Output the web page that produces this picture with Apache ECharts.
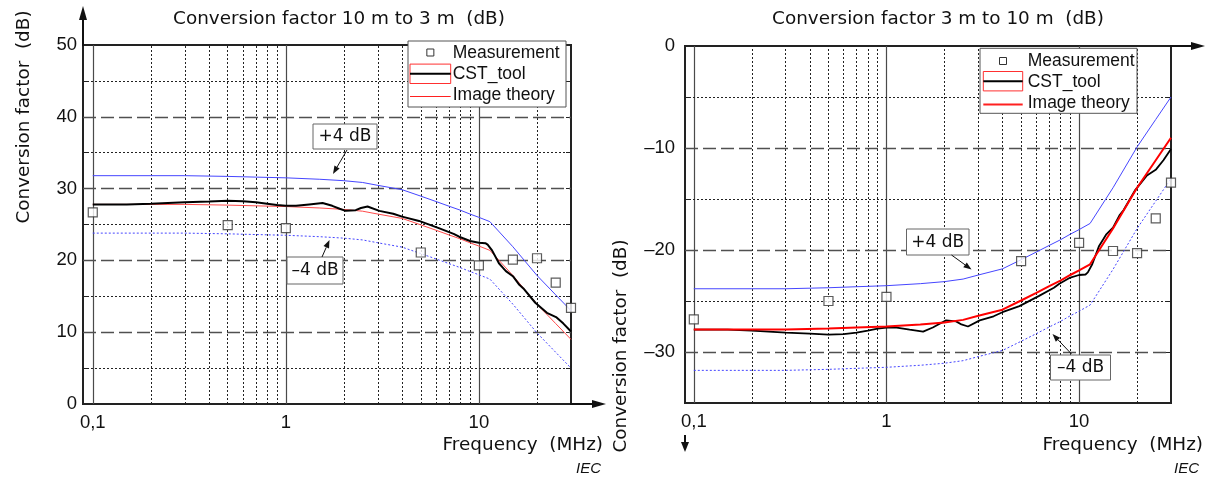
<!DOCTYPE html>
<html>
<head>
<meta charset="utf-8">
<script src="https://cdn.jsdelivr.net/npm/echarts@6/dist/echarts.min.js"></script>
<style>
  html, body { margin: 0; padding: 0; background: #fff; }
  #chart { width: 1212px; height: 477px; }
</style>
</head>
<body>
<div id="chart"></div>
<script>
// ---- data ----
const freqMeas = [0.1, 0.5, 1, 5, 10, 15, 20, 25, 30];
const measLeft = [26.7, 24.9, 24.5, 21.1, 19.3, 20.1, 20.3, 16.9, 13.4];
const measRight = [-26.8, -25.0, -24.6, -21.1, -19.3, -20.1, -20.3, -16.9, -13.4];

const freqTheory = [0.1, 0.2, 0.3, 0.5, 0.7, 1, 1.5, 2, 2.5, 3, 4, 5, 6, 7, 8, 9, 10, 11.4, 15, 20, 25, 30];
const theoryLeft = [27.8, 27.8, 27.8, 27.7, 27.6, 27.5, 27.3, 27.1, 26.85, 26.45, 25.85, 24.95, 24.2, 23.55, 23.0, 22.45, 22.0, 21.4, 17.9, 13.9, 11.2, 9.0];
const plus4Left = [31.8, 31.8, 31.8, 31.7, 31.6, 31.5, 31.3, 31.1, 30.85, 30.45, 29.85, 28.95, 28.2, 27.55, 27.0, 26.45, 26.0, 25.4, 21.9, 17.9, 15.2, 13.0];
const minus4Left = [23.8, 23.8, 23.8, 23.7, 23.6, 23.5, 23.3, 23.1, 22.85, 22.45, 21.85, 20.95, 20.2, 19.55, 19.0, 18.45, 18.0, 17.4, 13.9, 9.9, 7.2, 5.0];
const theoryRight = [-27.8, -27.8, -27.8, -27.7, -27.6, -27.5, -27.3, -27.1, -26.85, -26.45, -25.85, -24.95, -24.2, -23.55, -23.0, -22.45, -22.0, -21.4, -17.9, -13.9, -11.2, -9.0];
const plus4Right = [-23.8, -23.8, -23.8, -23.7, -23.6, -23.5, -23.3, -23.1, -22.85, -22.45, -21.85, -20.95, -20.2, -19.55, -19.0, -18.45, -18.0, -17.4, -13.9, -9.9, -7.2, -5.0];
const minus4Right = [-31.8, -31.8, -31.8, -31.7, -31.6, -31.5, -31.3, -31.1, -30.85, -30.45, -29.85, -28.95, -28.2, -27.55, -27.0, -26.45, -26.0, -25.4, -21.9, -17.9, -15.2, -13.0];

const freqCst = [0.1, 0.15, 0.2, 0.3, 0.4, 0.5, 0.6, 0.7, 0.8, 0.9, 1.0, 1.13, 1.32, 1.55, 1.74, 1.9, 2.04, 2.3, 2.45, 2.65, 3.05, 3.6, 4.0, 4.9, 6.2, 7.4, 7.9, 9.0, 10.0, 10.8, 11.1, 11.7, 12.7, 13.4, 13.8, 15.0, 16.2, 17.0, 19.6, 22.5, 25.1, 27.4, 30];
const cstLeft = [27.8, 27.8, 27.9, 28.1, 28.2, 28.3, 28.25, 28.1, 27.9, 27.7, 27.6, 27.6, 27.8, 28.0, 27.6, 27.2, 26.9, 27.0, 27.3, 27.5, 26.9, 26.5, 26.1, 25.5, 24.5, 23.7, 23.3, 22.7, 22.45, 22.4, 22.2, 21.4, 19.6, 18.9, 18.5, 17.8, 16.6, 16.1, 14.1, 12.7, 12.1, 11.2, 10.1];
const cstRight = [-27.8, -27.8, -27.9, -28.1, -28.2, -28.3, -28.25, -28.1, -27.9, -27.7, -27.6, -27.6, -27.8, -28.0, -27.6, -27.2, -26.9, -27.0, -27.3, -27.5, -26.9, -26.5, -26.1, -25.5, -24.5, -23.7, -23.3, -22.7, -22.45, -22.4, -22.2, -21.4, -19.6, -18.9, -18.5, -17.8, -16.6, -16.1, -14.1, -12.7, -12.1, -11.2, -10.1];

// grid lines
const decadeX = [0.1, 1, 10];
const minorX = [0.2, 0.3, 0.4, 0.5, 0.6, 0.7, 0.8, 0.9, 2, 3, 4, 5, 6, 7, 8, 9, 20];
const dashYLeft = [10, 20, 30, 40];
const dotYLeft = [5, 15, 25, 35, 45];
const dashYRight = [-30, -20, -10];
const dotYRight = [-25, -15, -5];

const FONT = 'DejaVu Sans';
const SANS = 'Liberation Sans';
const BLUE = '#4646ff';

function pairs(xs, ys) { return xs.map((x, i) => [x, ys[i]]); }

const styles = {
  solid: { color: '#4a4a4a', width: 1.2, type: 'solid' },
  dash: { color: '#505050', width: 1.4, type: [13, 5] },
  dot: { color: '#222', width: 1, type: [2, 2] }
};

function gridMarks(hDash, hDot) {
  const d = [];
  decadeX.forEach(v => d.push({ xAxis: v, lineStyle: styles.solid }));
  minorX.forEach(v => d.push({ xAxis: v, lineStyle: styles.dot }));
  hDash.forEach(v => d.push({ yAxis: v, lineStyle: styles.dash }));
  hDot.forEach(v => d.push({ yAxis: v, lineStyle: styles.dot }));
  return { silent: true, symbol: 'none', z: 1, label: { show: false }, emphasis: { disabled: true }, data: d };
}

function xAxisOf(gi, min) {
  return {
    type: 'log', logBase: 10, gridIndex: gi, min: min, max: 30,
    axisLine: { show: true, onZero: false, lineStyle: { color: '#222', width: 2 } },
    axisTick: { show: false }, splitLine: { show: false },
    axisLabel: {
      fontFamily: SANS, fontSize: 18.5, color: '#111', margin: 9,
      showMinLabel: true, showMaxLabel: true,
      formatter: v => {
        const l = Math.log10(v);
        if (Math.abs(l - Math.round(l)) > 1e-6) return '';
        return v < 1 ? '0,1' : String(Math.round(v));
      }
    }
  };
}

function yAxisOf(gi, min, max, pos, margin) {
  return {
    type: 'value', gridIndex: gi, min: min, max: max, interval: 5, position: pos,
    axisLine: { show: pos === 'left', lineStyle: { color: '#222', width: 2 } },
    axisTick: { show: true, inside: true, length: 5, lineStyle: { color: '#222', width: 1 } },
    splitLine: { show: false },
    axisLabel: pos === 'left' ? {
      fontFamily: SANS, fontSize: 18.5, color: '#111', margin: margin,
      formatter: v => (v % 10 === 0 ? String(v).replace('-', '\u2013') : '')
    } : { show: false }
  };
}

function lineSeries(name, xi, yi, xs, ys, color, width, type, z) {
  return {
    name: name, type: 'line', xAxisIndex: xi, yAxisIndex: yi, data: pairs(xs, ys),
    symbol: 'none', z: z, lineStyle: { color: color, width: width, type: type }
  };
}

function measSeries(xi, yi, ys) {
  return {
    name: 'Measurement', type: 'scatter', xAxisIndex: xi, yAxisIndex: yi, data: pairs(freqMeas, ys),
    symbol: 'rect', symbolSize: 9, z: 6, clip: false,
    itemStyle: { color: '#fff', borderColor: '#333', borderWidth: 1.2 }
  };
}

function arrow(x1, y1, x2, y2, len, half, w) {
  const a = Math.atan2(y2 - y1, x2 - x1);
  const bx = x2 - len * Math.cos(a), by = y2 - len * Math.sin(a);
  const px = -Math.sin(a) * half, py = Math.cos(a) * half;
  return [
    { type: 'line', z: 20, shape: { x1: x1, y1: y1, x2: bx, y2: by }, style: { stroke: '#111', lineWidth: w || 1 } },
    { type: 'polygon', z: 20, shape: { points: [[x2, y2], [bx + px, by + py], [bx - px, by - py]] }, style: { fill: '#111' } }
  ];
}

function text(str, x, y, font, align, extra) {
  return Object.assign({
    type: 'text', z: 21, x: x, y: y,
    style: { text: str, font: font, fill: '#111', textAlign: align || 'left', textVerticalAlign: 'middle' }
  }, extra || {});
}

function tag(str, x, y, w, h) {
  return [
    { type: 'rect', z: 20, shape: { x: x, y: y, width: w, height: h }, style: { fill: '#fff', stroke: '#666', lineWidth: 1 } },
    text(str, x + w / 2, y + h / 2 + 0.5, '17px "' + FONT + '"', 'center')
  ];
}

function legendBox(x, y, w, h, rows, iconX, iconW, textX, theoryWidth) {
  const f = '17.5px "' + SANS + '"';
  return [
    { type: 'rect', z: 20, shape: { x: x, y: y, width: w, height: h }, style: { fill: '#fff', stroke: '#555', lineWidth: 1 } },
    { type: 'rect', z: 21, shape: { x: iconX + iconW / 2 - 3.5, y: rows[0] - 3.5, width: 7, height: 7 }, style: { fill: '#fff', stroke: '#333', lineWidth: 1 } },
    text('Measurement', textX, rows[0] + 0.5, f),
    { type: 'rect', z: 21, shape: { x: iconX, y: rows[1] - 9.7, width: iconW, height: 19.4 }, style: { fill: 'none', stroke: '#ff3030', lineWidth: 1 } },
    { type: 'line', z: 21, shape: { x1: iconX, y1: rows[1], x2: iconX + iconW, y2: rows[1] }, style: { stroke: '#000', lineWidth: 2 } },
    text('CST_tool', textX, rows[1] + 0.5, f),
    { type: 'line', z: 21, shape: { x1: iconX, y1: rows[2] + 1, x2: iconX + iconW, y2: rows[2] + 1 }, style: { stroke: '#ff2020', lineWidth: theoryWidth } },
    text('Image theory', textX, rows[2], f)
  ];
}

const nameFont = '18.4px "' + FONT + '"';
const freqFont = '18.4px "' + FONT + '"';
const iecFont = 'italic 15px "' + SANS + '"';

const graphics = [].concat(
  // axis arrows
  arrow(83, 46, 83, 6, 14, 4, 2),
  arrow(570, 404, 606, 404, 14, 4, 2),
  arrow(1170, 46, 1205, 46, 14, 4, 2),
  arrow(685, 435, 685, 452, 10, 4, 2),
  // axis names and notes
  [
    text('Conversion factor  (dB)', 24, 117, nameFont, 'center', { rotation: Math.PI / 2 }),
    text('Conversion factor  (dB)', 621, 346, nameFont, 'center', { rotation: Math.PI / 2 }),
    text('Frequency  (MHz)', 603, 445, freqFont, 'right'),
    text('Frequency  (MHz)', 1203, 445, freqFont, 'right'),
    text('IEC', 601, 469, iecFont, 'right'),
    text('IEC', 1199, 469, iecFont, 'right')
  ],
  // legends
  legendBox(408, 41, 158, 66, [52.5, 73.8, 95.5], 410, 40.7, 452.7, 1),
  legendBox(980, 48.3, 157, 65, [61, 81.2, 103.5], 983.3, 39.4, 1027.7, 2),
  // annotations
  tag('+4 dB', 313, 124, 64, 25),
  arrow(347, 150, 333, 174, 8, 3),
  tag('\u20134 dB', 287, 257, 56, 27),
  arrow(322, 257, 329.5, 240, 8, 3),
  tag('+4 dB', 906.5, 229, 62.5, 26),
  arrow(951.5, 255, 971.5, 269.5, 8, 3),
  tag('\u20134 dB', 1050.5, 355, 60, 25),
  arrow(1071.5, 354, 1052.5, 334, 8, 3)
);

const chart = echarts.init(document.getElementById('chart'), null, { renderer: 'canvas' });
chart.setOption({
  animation: false,
  backgroundColor: '#fff',
  title: [
    { text: 'Conversion factor 10 m to 3 m  (dB)', left: 334, top: 5, textAlign: 'center',
      textStyle: { fontFamily: FONT, fontSize: 18.4, fontWeight: 'normal', color: '#111' } },
    { text: 'Conversion factor 3 m to 10 m  (dB)', left: 933, top: 5, textAlign: 'center',
      textStyle: { fontFamily: FONT, fontSize: 18.4, fontWeight: 'normal', color: '#111' } }
  ],
  grid: [
    { left: 83, top: 45, width: 488, height: 359, show: true, borderColor: '#222', borderWidth: 2, backgroundColor: 'transparent' },
    { left: 685, top: 46, width: 486, height: 357, show: true, borderColor: '#222', borderWidth: 2, backgroundColor: 'transparent' }
  ],
  xAxis: [xAxisOf(0, 0.089), xAxisOf(1, 0.09)],
  yAxis: [
    yAxisOf(0, 0, 50, 'left', 6),
    yAxisOf(0, 0, 50, 'right', 6),
    yAxisOf(1, -35, 0, 'left', 10),
    yAxisOf(1, -35, 0, 'right', 10)
  ],
  series: [
    Object.assign(lineSeries('-4 dB', 0, 0, freqTheory, minus4Left, BLUE, 1, [2, 2], 2), { markLine: gridMarks(dashYLeft, dotYLeft) }),
    lineSeries('+4 dB', 0, 0, freqTheory, plus4Left, BLUE, 1, 'solid', 2),
    lineSeries('Image theory', 0, 0, freqTheory, theoryLeft, '#ff4a4a', 1, 'solid', 3),
    lineSeries('CST_tool', 0, 0, freqCst, cstLeft, '#000', 2, 'solid', 4),
    measSeries(0, 0, measLeft),

    Object.assign(lineSeries('-4 dB', 1, 2, freqTheory, minus4Right, BLUE, 1, [2, 2], 2), { markLine: gridMarks(dashYRight, dotYRight) }),
    lineSeries('+4 dB', 1, 2, freqTheory, plus4Right, BLUE, 1, 'solid', 2),
    lineSeries('CST_tool', 1, 2, freqCst, cstRight, '#000', 1.8, 'solid', 3),
    lineSeries('Image theory', 1, 2, freqTheory, theoryRight, '#ff0000', 2, 'solid', 4),
    measSeries(1, 2, measRight)
  ],
  graphic: graphics
});
</script>
</body>
</html>
